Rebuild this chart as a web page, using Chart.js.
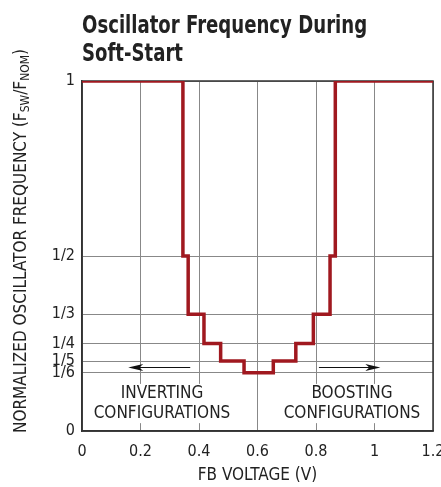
<!DOCTYPE html>
<html lang="en">
<head>
    <meta charset="UTF-8" />
    <title>Oscillator Frequency During Soft-Start</title>
    <script src="https://cdn.jsdelivr.net/npm/chart.js"></script>
    <style>
        html, body { margin: 0; padding: 0; background: #fff; }
        #chart { display: block; }
    </style>
</head>
<body>
    <canvas id="chart" width="441" height="487"></canvas>

    <script>
        const FONT = "'Liberation Sans Narrow', 'DejaVu Sans Condensed', 'Arial Narrow', sans-serif";

        // axis ticks
        const xTickValues = [0, 0.2, 0.4, 0.6, 0.8, 1, 1.2];
        const xTickLabels = ["0", "0.2", "0.4", "0.6", "0.8", "1", "1.2"];
        const yTickValues = [0, 1 / 6, 1 / 5, 1 / 4, 1 / 3, 1 / 2, 1];
        const yTickLabels = ["0", "1/6", "1/5", "1/4", "1/3", "1/2", "1"];

        // step edges (each level held until the next x)
        const fbVoltage = [0, 0.345, 0.363, 0.417, 0.474, 0.554, 0.654, 0.731, 0.791, 0.848, 0.866, 1.2];
        const freqRatio = [1, 1 / 2, 1 / 3, 1 / 4, 1 / 5, 1 / 6, 1 / 5, 1 / 4, 1 / 3, 1 / 2, 1, 1];

        // annotations (data units)
        const noteLines = [
            { x: 0.2735, y: 0.106, text: "INVERTING" },
            { x: 0.2735, y: 0.051, text: "CONFIGURATIONS" },
            { x: 0.923, y: 0.106, text: "BOOSTING" },
            { x: 0.923, y: 0.051, text: "CONFIGURATIONS" }
        ];
        const arrows = [
            { from: 0.37, to: 0.158, y: 0.183 },
            { from: 0.81, to: 1.02, y: 0.183 }
        ];

        const extras = {
            id: "extras",
            beforeDatasetsDraw(chart) {
                const { ctx, chartArea: a, scales: { x, y } } = chart;
                ctx.save();

                // annotation text on white boxes
                ctx.font = "17px " + FONT;
                ctx.textAlign = "center";
                ctx.textBaseline = "middle";
                noteLines.forEach(n => {
                    const px = x.getPixelForValue(n.x);
                    const py = y.getPixelForValue(n.y);
                    const w = ctx.measureText(n.text).width;
                    ctx.fillStyle = "#fff";
                    ctx.fillRect(px - w / 2 - 3, py - 10, w + 6, 20);
                });
                noteLines.forEach(n => {
                    ctx.fillStyle = "#222";
                    ctx.fillText(n.text, x.getPixelForValue(n.x), y.getPixelForValue(n.y));
                });

                // arrows
                arrows.forEach(ar => {
                    const x0 = x.getPixelForValue(ar.from);
                    const x1 = x.getPixelForValue(ar.to);
                    const py = Math.round(y.getPixelForValue(ar.y)) + 0.5;
                    const dir = Math.sign(x1 - x0);
                    ctx.strokeStyle = "#111";
                    ctx.lineWidth = 1.2;
                    ctx.beginPath();
                    ctx.moveTo(x0, py);
                    ctx.lineTo(x1 - dir * 6, py);
                    ctx.stroke();
                    ctx.fillStyle = "#111";
                    ctx.beginPath();
                    ctx.moveTo(x1, py);
                    ctx.lineTo(x1 - dir * 15, py - 3.5);
                    ctx.lineTo(x1 - dir * 11, py);
                    ctx.lineTo(x1 - dir * 15, py + 3.5);
                    ctx.closePath();
                    ctx.fill();
                });

                // frame
                ctx.strokeStyle = "#333";
                ctx.lineWidth = 1.5;
                ctx.strokeRect(a.left, a.top, a.right - a.left, a.bottom - a.top);
                ctx.restore();
            },
            afterDraw(chart) {
                const { ctx } = chart;
                ctx.save();

                // title (squeezed horizontally to look condensed)
                ctx.fillStyle = "#222";
                ctx.font = "bold 25px " + FONT;
                ctx.textAlign = "left";
                ctx.textBaseline = "alphabetic";
                ctx.save();
                ctx.translate(82, 0);
                ctx.scale(0.805, 1);
                ctx.fillText("Oscillator Frequency During", 0, 33);
                ctx.fillText("Soft-Start", 0, 61);
                ctx.restore();

                // rotated y title with subscripts
                const parts = [
                    { t: "NORMALIZED OSCILLATOR FREQUENCY (F", sub: false },
                    { t: "SW", sub: true },
                    { t: "/F", sub: false },
                    { t: "NOM", sub: true },
                    { t: ")", sub: false }
                ];
                const bigFont = "17px " + FONT;
                const smallFont = "12px " + FONT;
                let total = 0;
                parts.forEach(p => {
                    ctx.font = p.sub ? smallFont : bigFont;
                    p.w = ctx.measureText(p.t).width;
                    total += p.w;
                });
                ctx.translate(26, 241);
                ctx.rotate(-Math.PI / 2);
                let cx = -total / 2;
                parts.forEach(p => {
                    ctx.font = p.sub ? smallFont : bigFont;
                    ctx.fillText(p.t, cx, p.sub ? 3 : 0);
                    cx += p.w;
                });
                ctx.restore();
            }
        };

        new Chart(document.getElementById("chart").getContext("2d"), {
            type: "line",
            data: {
                datasets: [{
                    data: fbVoltage.map((v, i) => ({ x: v, y: freqRatio[i] })),
                    borderColor: "#a0181f",
                    borderWidth: 3.5,
                    stepped: "before",
                    pointRadius: 0,
                    fill: false
                }]
            },
            options: {
                responsive: false,
                animation: false,
                layout: { padding: { top: 81, left: 0, right: 8, bottom: 0 } },
                plugins: {
                    legend: { display: false },
                    tooltip: { enabled: false },
                    title: { display: false }
                },
                scales: {
                    x: {
                        type: "linear",
                        min: 0,
                        max: 1.2,
                        afterBuildTicks: s => { s.ticks = xTickValues.map(v => ({ value: v })); },
                        afterFit: s => { s.height = 56; s.paddingLeft = 0; s.paddingRight = 0; },
                        ticks: {
                            callback: (v, i) => xTickLabels[i],
                            autoSkip: false,
                            maxRotation: 0,
                            padding: 11,
                            color: "#222",
                            font: { family: FONT, size: 16 }
                        },
                        grid: { color: "#888", lineWidth: 1, drawTicks: false },
                        border: { color: "#333", width: 1.5 },
                        title: {
                            display: true,
                            text: "FB VOLTAGE (V)",
                            color: "#222",
                            font: { family: FONT, size: 17 },
                            padding: { top: 0, bottom: 1 }
                        }
                    },
                    y: {
                        type: "linear",
                        min: 0,
                        max: 1,
                        afterBuildTicks: s => { s.ticks = yTickValues.map(v => ({ value: v })); },
                        afterFit: s => { s.width = 82; s.paddingTop = 0; s.paddingBottom = 0; },
                        ticks: {
                            callback: (v, i) => yTickLabels[i],
                            autoSkip: false,
                            padding: 7,
                            color: "#222",
                            font: { family: FONT, size: 16 }
                        },
                        grid: { color: "#888", lineWidth: 1, drawTicks: false },
                        border: { color: "#333", width: 1.5 }
                    }
                }
            },
            plugins: [extras]
        });
    </script>
</body>
</html>
